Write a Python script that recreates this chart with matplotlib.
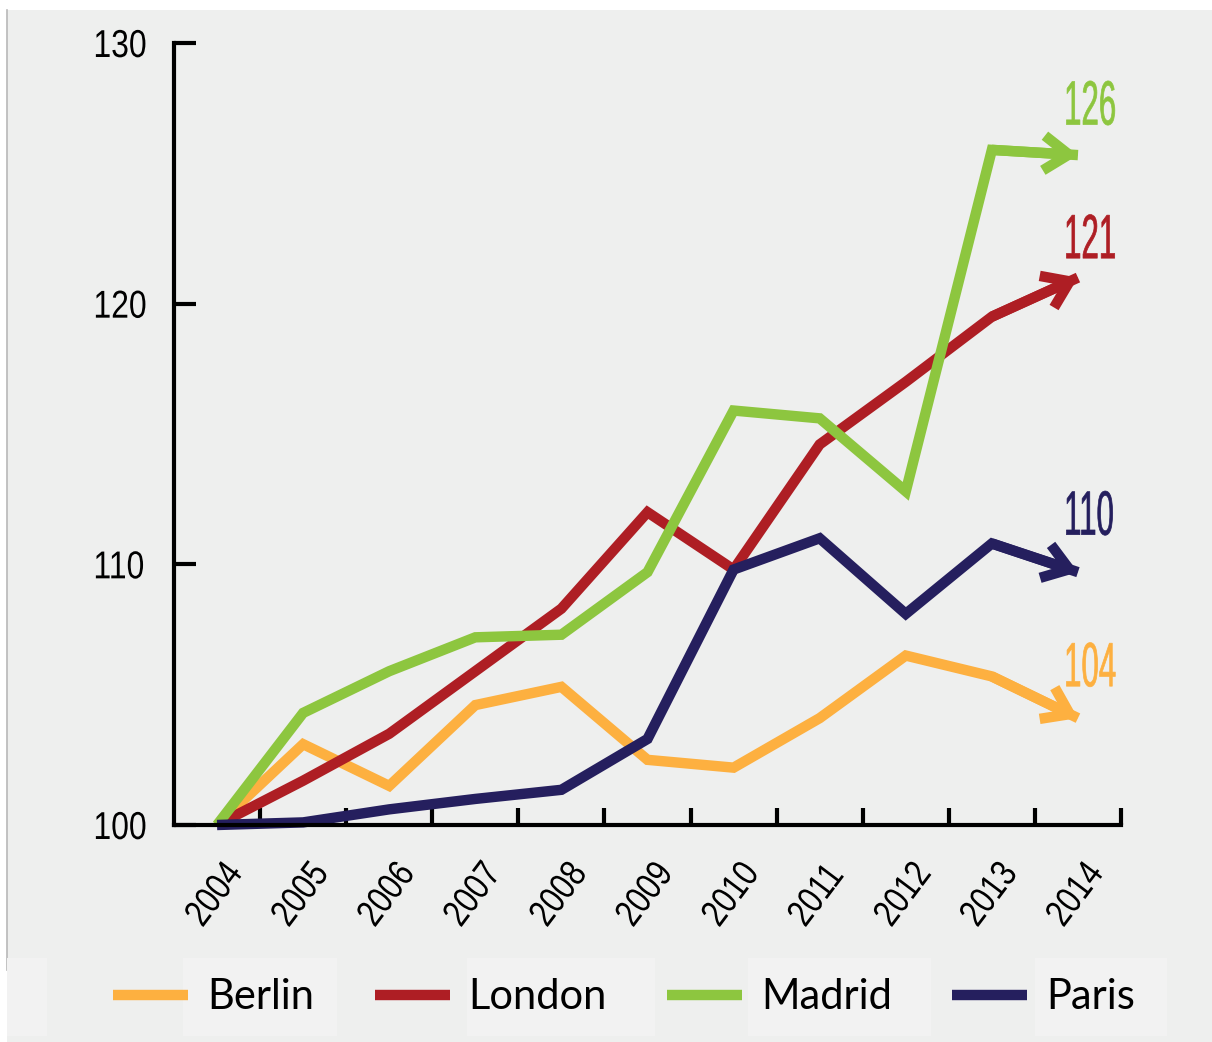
import matplotlib
matplotlib.use('Agg')
import matplotlib.pyplot as plt
from matplotlib import patheffects
from matplotlib.patches import Rectangle
from matplotlib.lines import Line2D
from matplotlib.transforms import Affine2D, blended_transform_factory

## Data: index, 2004 = 100
years = ['2004', '2005', '2006', '2007', '2008', '2009',
         '2010', '2011', '2012', '2013', '2014']
cities = ['Berlin', 'London', 'Madrid', 'Paris']
berlin = [100, 103.1, 101.5, 104.6, 105.3, 102.5, 102.2, 104.1, 106.5, 105.7, 104.1]
london = [100, 101.7, 103.5, 105.9, 108.3, 112.0, 109.8, 114.6, 117.0, 119.5, 121.0]
madrid = [100, 104.3, 105.9, 107.2, 107.3, 109.7, 115.9, 115.6, 112.8, 125.9, 125.7]
paris = [100, 100.1, 100.6, 101.0, 101.35, 103.3, 109.8, 111.0, 108.1, 110.8, 109.7]
series = [berlin, london, madrid, paris]
yticks = [100, 110, 120, 130]

## Style
colors = ['#fdb040', '#ae1e24', '#8dc63f', '#251f5e']
bg = '#eeefee'
LW = 7.5
# baseline offset of the end labels above the arrow tips (points)
label_dy = [23, 14, 22, 27]
TICK_FONT = ['Liberation Sans', 'DejaVu Sans']


class Squeeze(patheffects.AbstractPathEffect):
    """Compress glyphs along the baseline (condensed type), optional outline."""
    def __init__(self, sx, stroke=0):
        super().__init__()
        self.sx = sx
        self.stroke = stroke

    def draw_path(self, renderer, gc, tpath, affine, rgbFace=None):
        gc0 = renderer.new_gc()
        gc0.copy_properties(gc)
        if self.stroke:
            gc0.set_linewidth(self.stroke)
            gc0.set_foreground(rgbFace)
            gc0.set_joinstyle('round')
        renderer.draw_path(gc0, tpath, Affine2D().scale(self.sx, 1) + affine, rgbFace)
        gc0.restore()


f = plt.figure(figsize=(12.12, 10.42), dpi=100, facecolor='white')

# grey panel with thin border on the left
f.patches.append(Rectangle((7 / 1212, 0), 1 - 7 / 1212, 1032 / 1042,
                           transform=f.transFigure, facecolor=bg,
                           edgecolor='none', zorder=-10))
f.lines.append(Line2D([7 / 1212, 7 / 1212], [72 / 1042, 1032 / 1042],
                      transform=f.transFigure, color='#b8b8b8', lw=1.2,
                      zorder=-9))
# faint boxes behind the legend entries
for x0, x1 in [(7, 47), (183, 337), (467, 655), (748, 931), (1035, 1167)]:
    f.patches.append(Rectangle((x0 / 1212, 6 / 1042), (x1 - x0) / 1212, 78 / 1042,
                               transform=f.transFigure, facecolor='#f2f2f2',
                               edgecolor='none', zorder=-9))

ax = f.add_axes([174 / 1212, 217 / 1042, 947 / 1212, 782 / 1042])
ax.set_facecolor('none')

x = list(range(len(years)))
lines = []
for vals, c, name in zip(series, colors, cities):
    l, = ax.plot(x, vals, color=c, lw=LW, solid_joinstyle='miter',
                 solid_capstyle='butt', clip_on=False, label=name)
    lines.append(l)
    # chevron arrowhead on the last segment
    ax.annotate('', xy=(x[-1], vals[-1]), xytext=(x[-2], vals[-2]),
                arrowprops=dict(arrowstyle='->,head_length=1.8,head_width=1.25',
                                lw=LW, color=c, shrinkA=0, shrinkB=0,
                                joinstyle='miter', capstyle='butt'),
                annotation_clip=False)

# end value labels
for vals, c, dy in zip(series, colors, label_dy):
    ax.annotate('%d' % round(vals[-1]), xy=(x[-1], vals[-1]),
                xytext=(-10, dy), textcoords='offset points',
                ha='left', va='baseline', fontsize=45, color=c,
                family=TICK_FONT,
                path_effects=[Squeeze(0.5, stroke=0.5)], annotation_clip=False)

## Axes
ax.set_xlim(-0.5, 10.5)
ax.set_ylim(100, 130)
for s in ['top', 'right']:
    ax.spines[s].set_visible(False)
for s in ['left', 'bottom']:
    ax.spines[s].set_linewidth(3)
    ax.spines[s].set_color('black')
    ax.spines[s].set_capstyle('projecting')

ax.set_yticks(yticks)
ax.set_yticklabels([str(v) for v in yticks], family=TICK_FONT, fontsize=28,
                   ha='left', path_effects=[Squeeze(0.82)])
ax.tick_params(axis='y', direction='in', length=16, width=3, pad=58)

# x ticks sit between the years
ax.set_xticks([i + 0.5 for i in x])
ax.set_xticklabels([])
ax.tick_params(axis='x', direction='in', length=12, width=3)

xtrans = blended_transform_factory(ax.transData, ax.transAxes)
for i, yr in zip(x, years):
    ax.text(i - 0.17, -0.132, yr, transform=xtrans, rotation=53,
            rotation_mode='anchor', ha='left', va='baseline',
            family=TICK_FONT, fontsize=27, path_effects=[Squeeze(0.82)])

## Legend
leg = f.legend(lines, cities, loc='center', bbox_to_anchor=(0.515, 0.043),
               ncols=4, frameon=False, handlelength=1.8, handletextpad=0.45,
               columnspacing=1.45,
               prop={'family': ['Lato', 'DejaVu Sans'], 'size': 30})
for h in leg.get_lines():
    h.set_linewidth(7.5)

f.savefig('out.png', dpi=100, facecolor='white')
